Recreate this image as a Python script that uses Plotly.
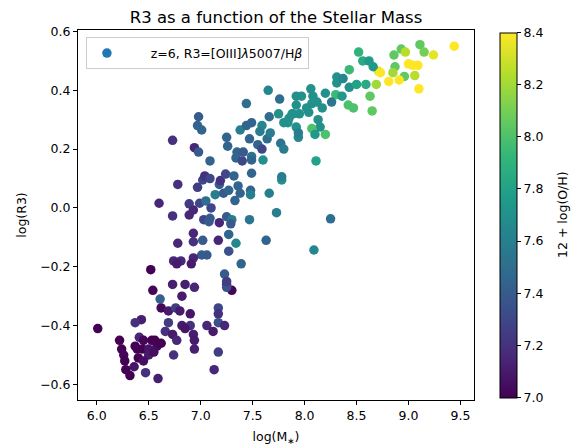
import plotly.graph_objects as go

pts = [
(6.01,-0.41,7.0),(6.54,-0.28,7.02),(6.61,-0.31,7.42),(6.73,-0.26,7.12),(6.85,-0.26,7.12),
(6.94,-0.27,7.15),(6.82,-0.30,7.1),(6.62,-0.34,7.03),(6.69,-0.35,7.1),(6.76,-0.34,7.25),
(6.80,-0.35,7.1),(6.90,-0.36,7.08),(7.17,-0.34,7.3),(7.17,-0.36,7.2),(7.25,-0.26,7.2),
(7.30,-0.28,7.02),(7.25,-0.27,7.35),(6.43,-0.38,7.12),(6.37,-0.39,7.2),(6.69,-0.39,7.25),
(6.82,-0.40,7.1),(6.90,-0.40,7.2),(6.85,-0.41,7.08),(6.66,-0.42,7.2),(6.73,-0.43,7.1),
(6.77,-0.45,7.15),(6.93,-0.43,7.12),(6.94,-0.45,7.1),(6.94,-0.48,7.12),(7.06,-0.40,7.15),
(7.12,-0.42,7.1),(7.17,-0.39,7.35),(7.23,-0.40,7.15),(7.17,-0.49,7.25),(7.13,-0.55,7.15),
(6.74,-0.50,7.2),(6.22,-0.45,7.0),(6.24,-0.48,7.0),(6.26,-0.50,7.02),(6.27,-0.52,7.0),
(6.41,-0.44,7.15),(6.45,-0.45,7.02),(6.53,-0.45,7.0),(6.58,-0.47,7.02),(6.39,-0.48,7.0),
(6.37,-0.47,7.0),(6.44,-0.48,7.0),(6.50,-0.48,7.08),(6.50,-0.50,7.1),(6.40,-0.51,7.0),
(6.36,-0.54,7.08),(6.32,-0.57,7.0),(6.47,-0.56,7.2),(6.59,-0.58,7.12),(6.62,-0.46,7.0),
(6.56,-0.45,7.0),(6.28,-0.55,7.0),(6.45,-0.52,7.05),(6.55,-0.49,7.05),
(6.78,0.08,7.2),(6.97,0.07,7.25),(7.02,0.095,7.3),(7.18,0.08,7.4),(7.14,0.045,7.6),
(7.22,0.05,7.4),(7.27,0.06,7.45),(7.36,0.075,7.45),(7.38,0.05,7.45),(7.48,0.06,7.45),
(7.48,0.045,7.6),(7.33,0.025,7.45),(7.66,0.05,7.6),(7.78,0.095,7.7),(6.60,0.016,7.15),
(6.89,0.014,7.25),(6.99,0.016,7.3),(7.05,0.024,7.5),(7.10,0.0,7.3),(6.93,-0.007,7.15),
(6.73,-0.027,7.2),(6.89,-0.024,7.15),(7.03,-0.04,7.3),(7.09,-0.035,7.4),(7.08,-0.047,7.4),
(7.18,-0.05,7.15),(7.25,-0.03,7.4),(7.30,-0.04,7.6),(7.29,-0.054,7.4),(7.47,-0.04,7.55),
(7.73,-0.016,7.6),(6.93,-0.086,7.15),(6.93,-0.115,7.2),(7.02,-0.11,7.4),(6.78,-0.12,7.15),
(7.17,-0.11,7.15),(7.27,-0.09,7.45),(7.34,-0.12,7.65),(7.63,-0.11,7.45),(7.27,-0.147,7.35),
(7.01,-0.16,7.4),(7.06,-0.16,7.4),(6.93,-0.17,7.15),(6.74,-0.18,7.15),(6.81,-0.18,7.15),
(6.77,-0.19,7.1),(6.91,-0.19,7.1),(7.39,-0.19,7.45),(6.52,-0.21,7.0),(7.23,-0.225,7.4),
(7.25,-0.25,7.25),
(7.65,0.40,7.65),(7.76,0.37,7.5),(7.44,0.355,7.5),(6.98,0.31,7.4),(6.97,0.28,7.45),
(7.01,0.265,7.45),(6.73,0.23,7.2),(6.94,0.205,7.15),(6.98,0.19,7.4),(7.09,0.16,7.45),
(7.25,0.24,7.45),(7.26,0.21,7.45),(7.38,0.265,7.6),(7.44,0.28,7.45),(7.49,0.29,7.45),
(7.59,0.28,7.65),(7.66,0.31,7.5),(7.75,0.32,7.7),(7.47,0.235,7.45),(7.55,0.215,7.45),
(7.64,0.235,7.5),(7.67,0.255,7.6),(7.59,0.20,7.3),(7.77,0.22,7.55),(7.80,0.20,7.6),
(7.35,0.19,7.45),(7.41,0.19,7.4),(7.34,0.17,7.45),(7.40,0.16,7.3),(7.49,0.175,7.55),
(7.49,0.163,7.45),(7.60,0.163,7.7),(7.49,0.118,7.45),(7.78,0.106,7.6),(7.04,0.109,7.2),
(7.09,0.10,7.3),(7.19,0.093,7.2),(7.24,0.115,7.3),(7.32,0.109,7.45),(7.92,0.38,7.7),
(7.89,0.32,7.8),(7.84,0.29,7.7),(7.92,0.275,7.7),(7.94,0.24,7.65),(7.57,0.26,7.6),
(8.06,0.405,7.7),(7.97,0.38,7.7),(8.08,0.38,7.7),(8.20,0.39,7.7),(8.31,0.445,7.7),
(8.31,0.425,7.7),(8.37,0.44,7.65),(8.43,0.41,7.7),(8.50,0.42,7.8),(8.59,0.42,7.85),
(8.43,0.47,7.95),(8.71,0.465,8.35),(8.69,0.42,8.2),(8.63,0.38,8.05),(8.65,0.33,8.05),
(8.30,0.385,7.95),(8.36,0.38,7.75),(8.26,0.36,7.55),(8.42,0.35,8.0),(8.47,0.34,8.0),
(8.07,0.355,7.7),(8.12,0.36,7.7),(8.17,0.34,7.7),(8.02,0.34,7.7),(7.92,0.35,7.7),
(7.88,0.32,7.7),(7.95,0.32,7.7),(8.04,0.325,7.7),(8.13,0.30,7.7),(8.15,0.275,7.7),
(8.07,0.27,8.0),(8.10,0.25,7.75),(8.20,0.25,8.0),(7.80,0.29,7.7),(7.85,0.305,7.7),
(7.94,0.255,7.6),(8.11,0.16,7.8),(8.25,-0.037,7.5),(8.09,-0.143,7.65),
(9.44,0.55,8.4),(9.11,0.555,8.05),(9.15,0.53,8.1),(9.24,0.52,8.35),(8.93,0.54,8.05),
(8.97,0.53,8.25),(8.86,0.52,8.05),(8.52,0.53,7.9),(8.56,0.50,7.85),(8.62,0.50,7.75),
(8.66,0.48,7.75),(8.73,0.46,8.4),(8.87,0.48,8.05),(8.85,0.46,8.2),(9.00,0.49,8.4),
(9.04,0.485,8.4),(9.09,0.485,8.4),(8.96,0.447,8.05),(9.06,0.45,8.25),(8.91,0.435,8.4),
(8.81,0.43,8.4),(9.10,0.405,8.4),
]
log_mass = [p[0] for p in pts]
log_r3 = [p[1] for p in pts]
metallicity = [p[2] for p in pts]

x_ticks = [6.0, 6.5, 7.0, 7.5, 8.0, 8.5, 9.0, 9.5]
y_ticks = [-0.6, -0.4, -0.2, 0.0, 0.2, 0.4, 0.6]
cb_ticks = [7.0, 7.2, 7.4, 7.6, 7.8, 8.0, 8.2, 8.4]

font = "DejaVu Sans"
fs = 12.5
fig = go.Figure()
fig.add_trace(go.Scatter(
    x=log_mass, y=log_r3, mode="markers", showlegend=False,
    marker=dict(size=9.5, color=metallicity, colorscale="Viridis", cmin=7.0, cmax=8.4,
                line=dict(width=0),
                colorbar=dict(
                    x=1.066, xanchor="left", xref="paper", y=0.5, yanchor="middle",
                    yref="paper", len=0.986, lenmode="fraction",
                    thickness=17, outlinecolor="black", outlinewidth=1, xpad=0, ypad=0,
                    tickvals=cb_ticks, tickformat=".1f",
                    ticks="outside", ticklen=4, tickcolor="black",
                    tickfont=dict(family=font, size=fs, color="black"),
                ))
))
fig.add_trace(go.Scatter(
    x=[None], y=[None], mode="markers",
    name="\u00a0" * 6 + "z=6, R3=[OIII]<i>λ</i>5007/H<i>β</i>",
    marker=dict(size=9.5, color="#1f77b4"), showlegend=True
))

axis_common = dict(showline=True, mirror=True, linecolor="black", linewidth=1,
                   ticks="outside", ticklen=4, tickcolor="black", showgrid=False,
                   zeroline=False, automargin=False,
                   tickfont=dict(family=font, size=fs, color="black"))
fig.update_xaxes(range=[5.82, 9.63], tickvals=x_ticks, tickformat=".1f",
                 title=dict(text="log(M<sub>∗</sub>)", font=dict(family=font, size=fs, color="black"),
                            standoff=10), **axis_common)
fig.update_yaxes(range=[-0.653, 0.605], tickvals=y_ticks, tickformat=".1f",
                 title=dict(text="log(R3)", font=dict(family=font, size=fs, color="black"),
                            standoff=10), **axis_common)
fig.update_layout(
    width=576, height=446,
    margin=dict(l=78, r=102, t=30, b=46),
    paper_bgcolor="white", plot_bgcolor="white",
    title=dict(text="R3 as a function of the Stellar Mass", x=0.5, xref="paper",
               y=1 - 17 / 446, yref="container", yanchor="middle",
               font=dict(family=font, size=16.5, color="black")),
    legend=dict(x=0.02, y=0.98, xanchor="left", yanchor="top", bgcolor="white",
                bordercolor="#cccccc", borderwidth=1,
                font=dict(family=font, size=fs, color="black")),
    annotations=[dict(text="12 + log(O/H)", x=(562 - 78) / 396, y=0.5, xref="paper",
                      yref="paper", xanchor="center", yanchor="middle", textangle=-90,
                      showarrow=False, font=dict(family=font, size=fs, color="black"))],
)
fig.write_html("out.html")
